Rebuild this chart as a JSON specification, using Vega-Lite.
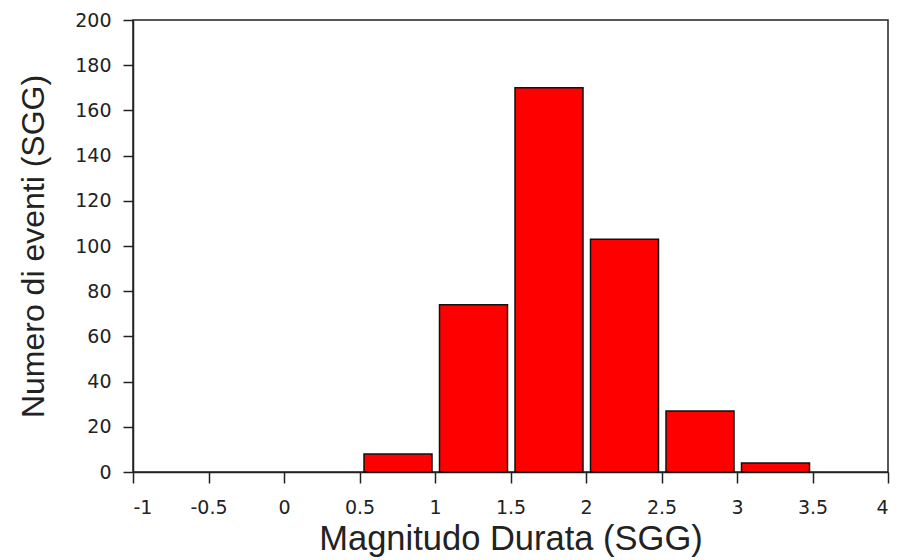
{
  "$schema": "https://vega.github.io/schema/vega-lite/v6.json",
  "width": 755,
  "height": 452,
  "autosize": "none",
  "padding": {"left": 133, "top": 20, "right": 10, "bottom": 88},
  "background": "white",
  "config": {
    "view": {"stroke": "#222222", "strokeWidth": 1.5},
    "axis": {
      "grid": false,
      "domainColor": "#222222",
      "domainWidth": 1.5,
      "tickColor": "#222222",
      "tickWidth": 1.5,
      "labelFont": "DejaVu Sans",
      "labelFontSize": 19,
      "labelColor": "#222222",
      "titleFont": "Liberation Sans",
      "titleFontSize": 32,
      "titleFontWeight": "normal",
      "titleColor": "#222222"
    }
  },
  "data": {
    "values": [
      {"start": 0.5, "end": 1.0, "count": 8},
      {"start": 1.0, "end": 1.5, "count": 74},
      {"start": 1.5, "end": 2.0, "count": 170},
      {"start": 2.0, "end": 2.5, "count": 103},
      {"start": 2.5, "end": 3.0, "count": 27},
      {"start": 3.0, "end": 3.5, "count": 4}
    ]
  },
  "mark": {
    "type": "bar",
    "color": "#ff0000",
    "stroke": "#111111",
    "strokeWidth": 1.5,
    "xOffset": 4.5,
    "x2Offset": -3
  },
  "encoding": {
    "x": {
      "field": "start",
      "type": "quantitative",
      "scale": {"domain": [-1, 4], "nice": false, "zero": false},
      "axis": {
        "title": "Magnitudo Durata (SGG)",
        "titleFontSize": 34.5,
        "values": [-1, -0.5, 0, 0.5, 1, 1.5, 2, 2.5, 3, 3.5, 4],
        "labelExpr": "'' + datum.value",
        "tickSize": 11,
        "labelPadding": 15,
        "titlePadding": 5
      }
    },
    "x2": {"field": "end"},
    "y": {
      "field": "count",
      "type": "quantitative",
      "scale": {"domain": [0, 200], "nice": false},
      "axis": {
        "title": "Numero di eventi (SGG)",
        "values": [0, 20, 40, 60, 80, 100, 120, 140, 160, 180, 200],
        "tickSize": 10,
        "labelPadding": 12,
        "titlePadding": 24
      }
    },
    "y2": {"datum": 0}
  }
}
